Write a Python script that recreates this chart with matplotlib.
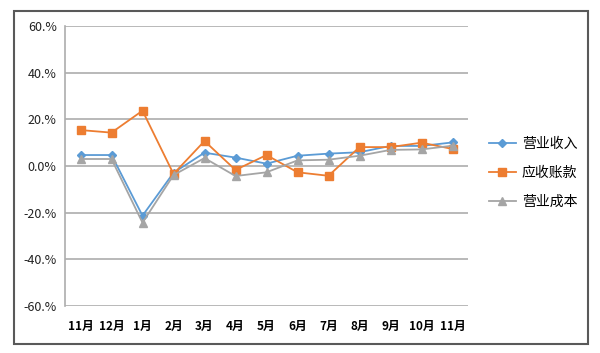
import matplotlib.pyplot as plt
import matplotlib.patches as patches
from matplotlib.ticker import FuncFormatter

plt.rcParams['font.family'] = ['Noto Sans CJK SC', 'DejaVu Sans']

months = ['11月', '12月', '1月', '2月', '3月', '4月', '5月', '6月', '7月', '8月', '9月', '10月', '11月']
revenue = [4.7, 4.7, -21.3, -2.9, 5.7, 3.6, 1.0, 4.4, 5.3, 5.9, 8.6, 8.6, 10.1]
receivable = [15.4, 14.3, 23.7, -3.4, 10.7, -1.7, 4.7, -2.7, -4.2, 8.1, 8.1, 10.0, 7.3]
cost = [3.0, 3.0, -24.3, -3.9, 3.4, -4.3, -2.7, 2.4, 2.7, 4.4, 6.9, 7.1, 8.7]
yticks = [-60, -40, -20, 0, 20, 40, 60]

fig = plt.figure(figsize=(6, 3.53), dpi=100)
fig.patches.append(patches.Rectangle((14 / 600, 1 - 344 / 353), 574 / 600, 333 / 353,
                                     transform=fig.transFigure, fill=False,
                                     edgecolor='#595959', linewidth=1.5))
ax = fig.add_axes([65 / 600, 1 - 306 / 353, 403 / 600, 280 / 353])

x = range(len(months))
ax.plot(x, revenue, color='#5B9BD5', marker='D', markersize=4, linewidth=1.3, label='营业收入')
ax.plot(x, receivable, color='#ED7D31', marker='s', markersize=6, linewidth=1.3, label='应收账款')
ax.plot(x, cost, color='#A5A5A5', marker='^', markersize=6, linewidth=1.3, label='营业成本')

ax.set_xlim(-0.5, len(months) - 0.5)
ax.set_ylim(-60, 60)
ax.set_yticks(yticks)
ax.yaxis.set_major_formatter(FuncFormatter(lambda v, p: '%.1f%%' % v if v == 0 else '%d.%%' % v))
ax.set_xticks(list(x))
ax.set_xticklabels(months, fontweight='bold', fontsize=8.5)
ax.tick_params(axis='y', labelsize=9, length=0, pad=6, colors='#222222')
ax.tick_params(axis='x', length=0, pad=10)
ax.grid(axis='y', color='#ADADAD', linewidth=1.2)
ax.set_axisbelow(True)
for s in ['top', 'right', 'bottom']:
    ax.spines[s].set_visible(False)
ax.spines['left'].set_color('#ADADAD')
ax.spines['left'].set_linewidth(1.2)

ax.legend(loc='center left', bbox_to_anchor=(1.02, 0.475), frameon=False, fontsize=10,
          handlelength=2.0, handletextpad=0.4, labelspacing=1.1)

fig.savefig('out.png', dpi=100)
